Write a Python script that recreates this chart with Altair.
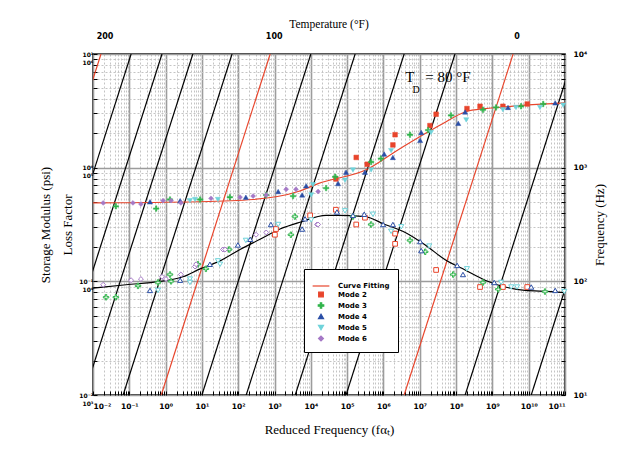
import json
import altair as alt
import pandas as pd

# ---------------- data (log10 values) ----------------
SERIES = ["Curve Fitting", "Mode 2", "Mode 3", "Mode 4", "Mode 5", "Mode 6"]
SERIES_COLORS = ["#e8452c", "#e8452c", "#2fb44a", "#2a4ea6", "#6fd3da", "#a579c6"]
PLUS_PATH = "M-1,-0.25H-0.25V-1H0.25V-0.25H1V0.25H0.25V1H-0.25V0.25H-1Z"
SERIES_SHAPES = ["stroke", "square", PLUS_PATH, "triangle-up", "triangle-down", "diamond"]

# storage modulus (psi): log10 reduced frequency, log10 modulus
m2_E_logfr = [4.69, 5.25, 5.55, 6.26, 6.32, 7.28, 7.45, 8.30, 8.66, 9.29, 9.96]
m2_E_log = [4.90, 5.09, 5.03, 5.20, 5.29, 5.37, 5.47, 5.52, 5.54, 5.54, 5.56]
m3_E_logfr = [-1.37, -0.26, 0.12, 0.95, 1.77, 2.77, 3.51, 4.42, 4.67, 5.66, 5.93, 6.73, 7.23, 7.86, 8.74, 9.10, 9.79, 10.40]
m3_E_log = [4.66, 4.64, 4.72, 4.72, 4.74, 4.76, 4.75, 4.82, 4.92, 5.05, 5.08, 5.29, 5.33, 5.46, 5.51, 5.53, 5.54, 5.56]
m4_E_logfr = [-0.43, 0.40, 2.21, 3.10, 3.76, 3.87, 4.75, 4.97, 5.49, 6.02, 6.26, 7.01, 7.04, 8.06, 8.25, 9.43, 10.73]
m4_E_log = [4.70, 4.71, 4.74, 4.79, 4.76, 4.84, 4.86, 4.96, 4.96, 5.12, 5.09, 5.24, 5.31, 5.39, 5.49, 5.53, 5.57]
m5_E_logfr = [0.67, 0.81, 1.44, 4.01, 4.06, 4.94, 5.16, 5.66, 6.21, 7.31, 8.28, 9.29, 9.65, 10.31, 10.95]
m5_E_log = [4.71, 4.72, 4.72, 4.76, 4.85, 4.89, 4.98, 4.98, 5.15, 5.31, 5.42, 5.51, 5.53, 5.53, 5.55]
m6_E_logfr = [-1.72, -0.90, -0.68, -0.07, 0.15, 0.42, 1.25, 2.05, 2.41, 2.77, 3.32, 3.59, 4.20]
m6_E_log = [4.69, 4.69, 4.68, 4.71, 4.71, 4.69, 4.73, 4.74, 4.75, 4.76, 4.81, 4.81, 4.79]

# loss factor: log10 reduced frequency, log10 loss factor
m2_L_logfr = [3.01, 3.04, 3.98, 4.69, 5.25, 5.49, 6.32, 6.32, 7.45, 8.66, 9.29, 9.96]
m2_L_log = [-0.59, -0.54, -0.42, -0.37, -0.50, -0.44, -0.58, -0.67, -0.90, -1.05, -1.05, -1.05]
m3_L_logfr = [-1.64, -1.37, -0.76, -0.21, 0.12, 0.15, 0.89, 1.11, 1.75, 3.45, 3.56, 5.16, 5.66, 6.73, 7.15, 7.92, 8.74, 9.16, 10.45]
m3_L_log = [-1.14, -1.14, -1.04, -1.01, -0.94, -1.00, -0.85, -0.89, -0.72, -0.59, -0.43, -0.43, -0.50, -0.64, -0.74, -0.94, -1.01, -1.07, -1.09]
m4_L_logfr = [-0.43, 0.40, 1.22, 1.99, 2.33, 2.90, 3.76, 3.84, 4.72, 5.16, 5.47, 5.99, 6.26, 7.01, 7.04, 8.03, 8.19, 9.05, 10.07, 10.73]
m4_L_log = [-1.08, -0.99, -0.85, -0.68, -0.63, -0.50, -0.54, -0.45, -0.39, -0.42, -0.41, -0.50, -0.50, -0.65, -0.73, -0.86, -0.94, -1.01, -1.05, -1.08]
m5_L_logfr = [-0.21, 0.67, 0.67, 1.44, 1.50, 2.21, 3.10, 4.01, 4.94, 5.71, 6.21, 6.49, 7.26, 8.30, 9.24, 9.52, 9.68, 10.98]
m5_L_log = [-1.08, -0.98, -1.01, -0.82, -0.85, -0.64, -0.50, -0.46, -0.38, -0.41, -0.56, -0.52, -0.69, -0.89, -1.01, -1.05, -1.05, -1.09]
m6_L_logfr = [-1.72, -0.95, -0.68, -0.10, 0.01, 0.42, 0.81, 0.84, 1.58, 1.64, 2.49, 2.77, 4.17, 4.20]
m6_L_log = [-1.03, -0.99, -0.98, -0.96, -0.98, -0.94, -0.87, -0.85, -0.72, -0.72, -0.59, -0.57, -0.50, -0.50]

# curve fits
fitE_logfr = [-2.00, 0.89, 2.41, 3.65, 4.20, 5.58, 6.32, 7.15, 7.59, 8.25, 8.80, 9.16, 9.90, 11.00]
fitE_log = [4.69, 4.70, 4.72, 4.79, 4.86, 4.99, 5.14, 5.30, 5.38, 5.49, 5.52, 5.53, 5.55, 5.57]
fitL_logfr = [-2.00, -1.09, -0.15, 0.48, 0.95, 1.50, 2.05, 2.60, 3.15, 3.70, 4.42, 4.75, 5.49, 6.04,
              6.60, 7.15, 7.70, 8.25, 8.80, 9.35, 9.90, 10.62, 11.00]
fitL_log = [-1.06, -1.03, -1.00, -0.96, -0.89, -0.82, -0.72, -0.63, -0.54, -0.48, -0.42, -0.42, -0.43, -0.50,
            -0.57, -0.68, -0.81, -0.90, -0.99, -1.05, -1.08, -1.09, -1.10]

# isotherms: temperature (F) and log10 shift factor aT
ISO_TEMP = [200, 180, 160, 140, 120, 100, 80, 60, 40, 20, 0, -20, -40]
ISO_LOG_AT = [-5.78, -4.95, -4.10, -3.25, -2.17, -1.12, 0.0, 1.22, 2.57, 3.97, 5.57, 7.25, 9.07]
ISO_LABELED = [200, 100, 0]

# axes
X_DOMAIN = [1e-2, 1e11]
MOD_DOMAIN = [1e3, 1e6]
LOSS_DOMAIN = [1e-2, 1e1]
FREQ_DOMAIN = [1e1, 1e4]
X_TICK_LABELS = ["10⁻²", "10⁻¹", "10⁰", "10¹", "10²", "10³", "10⁴", "10⁵", "10⁶",
                 "10⁷", "10⁸", "10⁹", "10¹⁰", "10¹¹"]
LEFT_LOSS_LABELS = ["10⁻²", "10⁻¹", "10⁰", "10¹"]
LEFT_MOD_LABELS = ["10³", "10⁴", "10⁵", "10⁶"]
RIGHT_LABELS = ["10¹", "10²", "10³", "10⁴"]

RED = "#e8452c"

# ---------------- tables ----------------
LOSS_TO_MOD = MOD_DOMAIN[0] / LOSS_DOMAIN[0]
modes = [
    ("Mode 2", m2_E_logfr, m2_E_log, m2_L_logfr, m2_L_log),
    ("Mode 3", m3_E_logfr, m3_E_log, m3_L_logfr, m3_L_log),
    ("Mode 4", m4_E_logfr, m4_E_log, m4_L_logfr, m4_L_log),
    ("Mode 5", m5_E_logfr, m5_E_log, m5_L_logfr, m5_L_log),
    ("Mode 6", m6_E_logfr, m6_E_log, m6_L_logfr, m6_L_log),
]
e_rows, l_rows = [], []
for name, ef, ev, lf, lv in modes:
    e_rows += [{"fr": 10 ** a, "ypos": 10 ** b, "series": name} for a, b in zip(ef, ev)]
    l_rows += [{"fr": 10 ** a, "ypos": (10 ** b) * LOSS_TO_MOD, "series": name} for a, b in zip(lf, lv)]
df_E = pd.DataFrame(e_rows)
df_L = pd.DataFrame(l_rows)
df_fitE = pd.DataFrame({"fr": [10 ** a for a in fitE_logfr], "ypos": [10 ** b for b in fitE_log]})
df_fitL = pd.DataFrame({"fr": [10 ** a for a in fitL_logfr], "ypos": [(10 ** b) * LOSS_TO_MOD for b in fitL_log]})

iso_rows = []
for T, la in zip(ISO_TEMP, ISO_LOG_AT):
    for f in FREQ_DOMAIN:
        iso_rows.append({"T": T, "fr": f * 10 ** la, "f": f,
                         "kind": "labeled" if T in ISO_LABELED else "plain"})
df_iso = pd.DataFrame(iso_rows)
df_top = pd.DataFrame([{"fr": FREQ_DOMAIN[1] * 10 ** la, "f": FREQ_DOMAIN[1], "label": str(T)}
                       for T, la in zip(ISO_TEMP, ISO_LOG_AT) if T in ISO_LABELED])

# ---------------- axes ----------------
DEC = "abs(log(datum.value)/LN10 - round(log(datum.value)/LN10)) < 1e-6"
EXP = "round(log(datum.value)/LN10)"
js = lambda v: json.dumps(v, ensure_ascii=False)


def minor_values(lo, hi):
    vals = []
    k = lo
    while k < hi:
        vals += [m * 10.0 ** k for m in range(1, 10)]
        k += 1
    vals.append(10.0 ** hi)
    return vals


grid_color = {"condition": {"test": DEC, "value": "#9c9c9c"}, "value": "#c4c4c4"}
grid_dash = {"condition": {"test": DEC, "value": []}, "value": [2, 2]}
grid_width = {"condition": {"test": DEC, "value": 1.6}, "value": 1}

x_axis = alt.Axis(
    values=minor_values(-2, 11),
    labelExpr=f"{DEC} ? {js(X_TICK_LABELS)}[{EXP}+2] : ''",
    grid=True, gridColor=grid_color, gridDash=grid_dash, gridWidth=grid_width,
    tickSize=alt.ExprRef(expr="-4"), tickColor="black", labelPadding=11,
    title="Reduced Frequency (fαₜ)", titlePadding=14,
)
yl_axis = alt.Axis(
    orient="left",
    values=minor_values(3, 6),
    labelExpr=f"{DEC} ? [{js(LEFT_LOSS_LABELS)}[{EXP}-3], {js(LEFT_MOD_LABELS)}[{EXP}-3]] : ''",
    grid=True, gridColor=grid_color, gridDash=grid_dash, gridWidth=grid_width,
    tickSize=alt.ExprRef(expr="-4"), tickColor="black", labelPadding=4,
    labelFontSize=6, labelLineHeight=8,
    title=["Storage Modulus (psi)", "Loss Factor"], titleLineHeight=22, titlePadding=4,
)
yr_axis = alt.Axis(
    orient="right",
    values=minor_values(1, 4),
    labelExpr=f"{DEC} ? {js(RIGHT_LABELS)}[{EXP}-1] : ''",
    grid=False, tickSize=alt.ExprRef(expr="-4"), tickColor="black", labelPadding=12,
    title="Frequency (Hz)", titleAngle=270, titleBaseline="top", titlePadding=7,
)


def X():
    return alt.X("fr:Q", scale=alt.Scale(type="log", domain=X_DOMAIN, nice=False), axis=x_axis)


def YL():
    return alt.Y("ypos:Q", scale=alt.Scale(type="log", domain=MOD_DOMAIN, nice=False), axis=yl_axis)


def YR():
    return alt.Y("f:Q", scale=alt.Scale(type="log", domain=FREQ_DOMAIN, nice=False), axis=yr_axis)


legend = alt.Legend(
    title=None, orient="none", legendX=211, legendY=215,
    fillColor="white", strokeColor="black", padding=8,
    labelFont="DejaVu Sans", labelFontSize=7, labelFontWeight="bold",
    symbolStrokeWidth=1.2, rowPadding=0, labelOffset=8,
)
sc_fill = alt.Scale(domain=SERIES, range=SERIES_COLORS)
sc_shape = alt.Scale(domain=SERIES, range=SERIES_SHAPES)
sc_size = alt.Scale(type="ordinal", domain=SERIES, range=[280, 22, 30, 26, 26, 24])

# ---------------- layer B: isotherms, right axis ----------------
iso = alt.Chart(df_iso).mark_line(clip=True, strokeWidth=1.2).encode(
    x=X(), y=YR(), detail="T:N",
    color=alt.Color("kind:N", scale=alt.Scale(domain=["labeled", "plain"], range=[RED, "black"]), legend=None),
)
top_labels = alt.Chart(df_top).mark_text(
    dy=-17, dx=4, font="DejaVu Sans", fontWeight="bold", fontSize=8, color="black"
).encode(x=X(), y=YR(), text="label:N")
layer_B = alt.layer(iso, top_labels)

# ---------------- layer A: data, left axis ----------------
fitE = alt.Chart(df_fitE).mark_line(color=RED, strokeWidth=1.2, interpolate="monotone").encode(x=X(), y=YL())
fitL = alt.Chart(df_fitL).mark_line(color="black", strokeWidth=1.2, interpolate="monotone").encode(x=X(), y=YL())
ptsE = alt.Chart(df_E).mark_point(filled=True, strokeWidth=0.5, opacity=1).encode(
    x=X(), y=YL(),
    fill=alt.Fill("series:N", scale=sc_fill, legend=legend),
    stroke=alt.Stroke("series:N", scale=sc_fill, legend=legend),
    shape=alt.Shape("series:N", scale=sc_shape, legend=legend),
    size=alt.Size("series:N", scale=sc_size, legend=legend),
)
ptsL = alt.Chart(df_L).mark_point(filled=False, strokeWidth=1, opacity=1).encode(
    x=X(), y=YL(),
    fill=alt.value("white"),
    stroke=alt.Stroke("series:N", scale=sc_fill, legend=legend),
    shape=alt.Shape("series:N", scale=sc_shape, legend=legend),
    size=alt.Size("series:N", scale=sc_size, legend=legend),
)
df_td_big = pd.DataFrame({"fr": [10 ** 6.60, 10 ** 7.15], "ypos": [10 ** 5.80, 10 ** 5.80], "t": ["T", "= 80 °F"]})
df_td_sub = pd.DataFrame({"fr": [10 ** 6.80], "ypos": [10 ** 5.68], "t": ["D"]})
td_big = alt.Chart(df_td_big).mark_text(align="left", font="Liberation Serif", fontSize=15, color="black").encode(
    x=X(), y=YL(), text="t:N")
td_sub = alt.Chart(df_td_sub).mark_text(align="left", font="Liberation Serif", fontSize=10, color="black").encode(
    x=X(), y=YL(), text="t:N")
layer_A = alt.layer(fitE, fitL, ptsL, ptsE, td_big, td_sub)

chart = (
    alt.layer(layer_B, layer_A)
    .resolve_scale(y="independent")
    .properties(
        width=472, height=341,
        title=alt.Title("Temperature (°F)", font="Liberation Serif", fontSize=11.5, fontWeight="normal",
                        offset=3, frame="group", color="black"),
        padding={"left": 31, "top": 10, "right": 5, "bottom": 5},
    )
    .configure_view(stroke="black", strokeWidth=1.5)
    .configure_axis(domain=False, labelFont="DejaVu Sans", labelFontWeight="bold", labelFontSize=7.5,
                    labelColor="black", titleFont="Liberation Serif", titleFontWeight="normal",
                    titleFontSize=13, titleColor="black")
)

chart.save("out.html", embed_options={"renderer": "svg", "actions": False})
